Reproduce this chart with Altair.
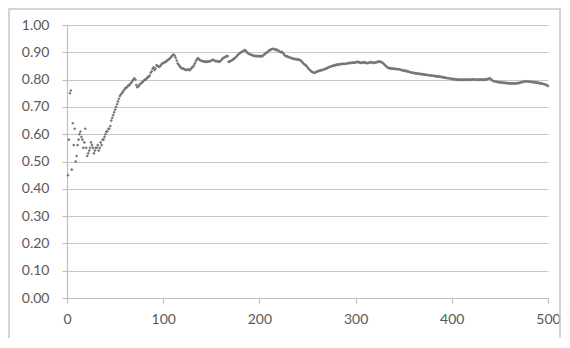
import altair as alt
import pandas as pd

y_vals = [
    0.45, 0.58, 0.75, 0.76, 0.47, 0.64, 0.56, 0.62, 0.50, 0.52,
    0.56, 0.58, 0.60, 0.61, 0.59, 0.58, 0.55, 0.57, 0.62, 0.55,
    0.52, 0.53, 0.54, 0.55, 0.57, 0.56, 0.55, 0.53, 0.54, 0.55,
    0.55, 0.56, 0.54, 0.55, 0.57, 0.56, 0.58, 0.58, 0.59, 0.60,
    0.61, 0.61, 0.62, 0.62, 0.63, 0.65, 0.66, 0.67, 0.68, 0.69,
    0.70, 0.71, 0.72, 0.73, 0.74, 0.745, 0.75, 0.755, 0.76, 0.765,
    0.77, 0.77, 0.775, 0.78, 0.78, 0.785, 0.79, 0.795, 0.80, 0.805,
    0.80, 0.78, 0.772, 0.775, 0.78, 0.784, 0.786, 0.79, 0.792, 0.797,
    0.80, 0.80, 0.805, 0.81, 0.81, 0.815, 0.825, 0.83, 0.84, 0.845,
    0.835, 0.84, 0.853, 0.85, 0.848, 0.847, 0.85, 0.855, 0.86, 0.86,
    0.862, 0.865, 0.866, 0.87, 0.872, 0.875, 0.878, 0.882, 0.886, 0.89,
    0.892, 0.887, 0.88, 0.87, 0.86, 0.855, 0.85, 0.845, 0.842, 0.841,
    0.84, 0.838, 0.836, 0.835, 0.836, 0.838, 0.835, 0.836, 0.84, 0.845,
    0.847, 0.853, 0.86, 0.868, 0.874, 0.878, 0.876, 0.872, 0.87, 0.868,
    0.868, 0.866, 0.866, 0.866, 0.865, 0.866, 0.867, 0.866, 0.868, 0.87,
    0.872, 0.872, 0.87, 0.868, 0.867, 0.868, 0.866, 0.866, 0.866, 0.87,
    0.874, 0.878, 0.88, 0.882, 0.884, 0.886, 0.886, 0.865, 0.866, 0.868,
    0.87, 0.872, 0.875, 0.878, 0.88, 0.884, 0.888, 0.892, 0.895, 0.898,
    0.90, 0.902, 0.904, 0.906, 0.908, 0.905, 0.90, 0.897, 0.895, 0.893,
    0.892, 0.89, 0.889, 0.888, 0.887, 0.886, 0.886, 0.887, 0.885, 0.886,
    0.886, 0.885, 0.887, 0.888, 0.892, 0.895, 0.898, 0.90, 0.903, 0.906,
    0.908, 0.91, 0.912, 0.912, 0.913, 0.911, 0.909, 0.91, 0.907, 0.905,
    0.903, 0.90, 0.902, 0.90, 0.895, 0.89, 0.887, 0.886, 0.884, 0.883,
    0.882, 0.88, 0.879, 0.878, 0.877, 0.876, 0.875, 0.875, 0.874, 0.874,
    0.873, 0.872, 0.87, 0.866, 0.862, 0.858, 0.855, 0.853, 0.85, 0.845,
    0.84, 0.837, 0.833, 0.83, 0.828, 0.826, 0.825, 0.826, 0.828, 0.83,
    0.831, 0.832, 0.833, 0.834, 0.835, 0.836, 0.837, 0.838, 0.84, 0.841,
    0.843, 0.845, 0.846, 0.848, 0.849, 0.85, 0.851, 0.852, 0.853, 0.854,
    0.855, 0.855, 0.856, 0.856, 0.857, 0.858, 0.857, 0.858, 0.857, 0.858,
    0.859, 0.86, 0.861, 0.86, 0.861, 0.862, 0.862, 0.862, 0.862, 0.863,
    0.864, 0.865, 0.864, 0.863, 0.862, 0.861, 0.862, 0.863, 0.864, 0.862,
    0.861, 0.86, 0.861, 0.862, 0.863, 0.864, 0.863, 0.862, 0.861, 0.862,
    0.863, 0.864, 0.865, 0.866, 0.866, 0.865, 0.864, 0.862, 0.858, 0.855,
    0.851, 0.848, 0.845, 0.843, 0.842, 0.841, 0.841, 0.84, 0.84, 0.84,
    0.839, 0.839, 0.838, 0.838, 0.838, 0.837, 0.836, 0.835, 0.834, 0.833,
    0.833, 0.832, 0.831, 0.83, 0.829, 0.828, 0.827, 0.826, 0.825, 0.825,
    0.824, 0.823, 0.823, 0.822, 0.822, 0.821, 0.821, 0.82, 0.82, 0.819,
    0.819, 0.818, 0.818, 0.817, 0.817, 0.816, 0.816, 0.815, 0.815, 0.814,
    0.814, 0.813, 0.813, 0.812, 0.812, 0.811, 0.811, 0.81, 0.81, 0.809,
    0.808, 0.808, 0.807, 0.806, 0.806, 0.805, 0.805, 0.804, 0.803, 0.803,
    0.802, 0.802, 0.801, 0.801, 0.80, 0.80, 0.80, 0.799, 0.799, 0.80,
    0.80, 0.799, 0.799, 0.80, 0.80, 0.799, 0.80, 0.80, 0.799, 0.80,
    0.80, 0.801, 0.80, 0.80, 0.799, 0.80, 0.80, 0.799, 0.80, 0.80,
    0.80, 0.80, 0.799, 0.80, 0.801, 0.80, 0.802, 0.803, 0.805, 0.804,
    0.80, 0.797, 0.795, 0.794, 0.793, 0.792, 0.792, 0.791, 0.79, 0.79,
    0.79, 0.789, 0.789, 0.789, 0.788, 0.788, 0.787, 0.787, 0.787, 0.786,
    0.786, 0.786, 0.786, 0.786, 0.786, 0.786, 0.786, 0.787, 0.787, 0.788,
    0.789, 0.79, 0.791, 0.792, 0.793, 0.793, 0.793, 0.794, 0.793, 0.793,
    0.792, 0.792, 0.791, 0.791, 0.791, 0.79, 0.79, 0.789, 0.789, 0.788,
    0.787, 0.786, 0.786, 0.785, 0.784, 0.783, 0.782, 0.781, 0.779, 0.777,
]
x_vals = list(range(1, len(y_vals) + 1))
x_ticks = [0, 100, 200, 300, 400, 500]
y_ticks = [0.0, 0.1, 0.2, 0.3, 0.4, 0.5, 0.6, 0.7, 0.8, 0.9, 1.0]

df = pd.DataFrame({"x": x_vals, "y": y_vals})

points = alt.Chart(df).mark_point(
    shape="diamond", filled=True, size=10, color="#777777", opacity=1
).encode(
    x=alt.X("x:Q", scale=alt.Scale(domain=[0, 500], nice=False),
            axis=alt.Axis(values=x_ticks, title=None, grid=False, tickSize=5,
                          labelPadding=9, labelFlush=False,
                          domainColor="#bfbfbf", tickColor="#bfbfbf")),
    y=alt.Y("y:Q", scale=alt.Scale(domain=[0, 1], nice=False),
            axis=alt.Axis(values=y_ticks, format=".2f", title=None, grid=True,
                          tickSize=5, labelPadding=13, domainColor="#bfbfbf",
                          tickColor="#bfbfbf", gridColor="#c8c8c8", gridWidth=1.2)),
)

border = alt.Chart(pd.DataFrame({"a": [0]})).mark_rect(
    fill="transparent", stroke="#c8c8c8", strokeWidth=1.5, clip=False
).encode(
    x=alt.value(-58), x2=alt.value(493), y=alt.value(-16), y2=alt.value(340)
)

chart = alt.layer(border, points).properties(
    width=481, height=273,
    autosize=alt.AutoSizeParams(type="none"),
    padding={"left": 59, "top": 17, "right": 14, "bottom": 40},
).configure_view(strokeWidth=0).configure_axis(
    labelFont="Lato", labelFontSize=14, labelColor="#595959",
    domainWidth=1.2, tickWidth=1.2,
)

chart.save("out.html", embed_options={"renderer": "svg", "actions": False})
